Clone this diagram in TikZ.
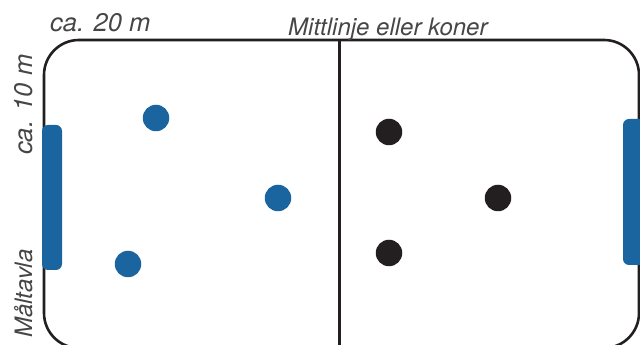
\documentclass[tikz,border=0pt]{standalone}
\usepackage{fontspec}
\setmainfont{TeX Gyre Heros}
\definecolor{goalblue}{RGB}{26,100,160}
\definecolor{darkdot}{RGB}{35,31,32}
\definecolor{txtgray}{RGB}{70,70,70}
\begin{document}
\begin{tikzpicture}[x=1pt,y=1pt,
  field/.style={draw=darkdot,line width=2.6pt},
  bluedot/.style={circle,fill=goalblue,minimum size=26.5pt,inner sep=0pt},
  blackdot/.style={circle,fill=darkdot,minimum size=26.5pt,inner sep=0pt},
  goal/.style={fill=goalblue,rounded corners=6pt},
  lbl/.style={font=\fontsize{24}{28}\selectfont\itshape,text=txtgray,inner sep=0pt},
  biglbl/.style={lbl,font=\fontsize{25.5}{30}\selectfont\itshape}]
\useasboundingbox (0,0) rectangle (640,345);
\begin{scope}
\clip (0,0) rectangle (640,345);
\draw[field,rounded corners=35pt] (44,305) rectangle (639,-3);
\coordinate (mtop) at (339.5,305);
\coordinate (mbot) at (339.5,-5);
\draw[field] (mtop) -- (mbot);
\fill[goal] (42,220) rectangle (62,75);
\fill[goal] (623,226) rectangle (650,80);
\end{scope}
\node[bluedot] (b1) at (156,227) {};
\node[bluedot] (b2) at (278,147) {};
\node[bluedot] (b3) at (128,81) {};
\node[blackdot] (k1) at (389,213) {};
\node[blackdot] (k2) at (498,147) {};
\node[blackdot] (k3) at (389,92) {};
\node[biglbl,anchor=base west] (t1) at (50,313) {ca. 20 m};
\node[lbl,anchor=base west] (t2) at (288,309) {Mittlinje eller koner};
\node[biglbl,anchor=base west,rotate=90] (t3) at (32,190) {ca. 10 m};
\node[lbl,anchor=base west,rotate=90] (t4) at (32,7) {Måltavla};
\end{tikzpicture}
\end{document}
